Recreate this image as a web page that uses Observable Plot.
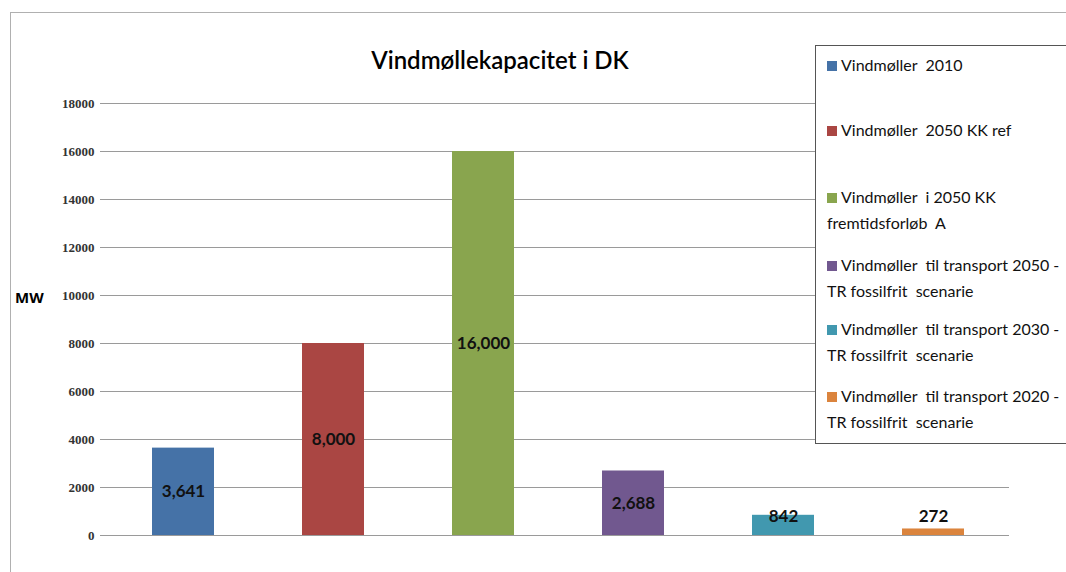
<!DOCTYPE html>
<html><head><meta charset="utf-8">
<script src="https://cdn.jsdelivr.net/npm/d3@7"></script>
<script src="https://cdn.jsdelivr.net/npm/@observablehq/plot@0.6"></script>
<style>
html,body{margin:0;padding:0;background:#fff;width:1066px;height:572px;overflow:hidden;}
#wrap{position:relative;width:1066px;height:572px;}
#frame{position:absolute;left:10px;top:12px;width:1070px;height:580px;border-left:1px solid #b0b0b0;border-top:1px solid #b0b0b0;}
#title{position:absolute;left:0;width:1000px;top:45px;text-align:center;font-family:Lato,"Open Sans",sans-serif;font-size:24px;font-weight:600;color:#000;}
#ylab{position:absolute;left:15px;top:287px;font-family:"Open Sans",sans-serif;font-weight:700;font-size:15px;}
#legend{position:absolute;left:815px;top:45px;width:260px;height:397px;border:1px solid #555;background:#fff;font-family:Lato,"Open Sans",sans-serif;font-size:16px;color:#111;}
.li{position:absolute;left:11px;line-height:26px;}
.sw{display:inline-block;width:10px;height:10px;margin-right:4px;vertical-align:0px;}
#chart{position:absolute;left:0;top:0;}
#chart g[aria-label="y-axis tick label"]{font-family:"Liberation Serif","DejaVu Serif",serif !important;font-size:13px !important;font-weight:bold;}
</style></head>
<body><div id="wrap"><div id="frame"></div><div id="chart"></div><div id="title"></div><div id="ylab">MW</div><div id="legend"></div></div>
<script>
const categories = ["Vindmøller 2010","Vindmøller 2050 KK ref","Vindmøller i 2050 KK fremtidsforløb A","Vindmøller til transport 2050 - TR fossilfrit scenarie","Vindmøller til transport 2030 - TR fossilfrit scenarie","Vindmøller til transport 2020 - TR fossilfrit scenarie"];
const legendLines = [["Vindmøller  2010"],["Vindmøller  2050 KK ref"],["Vindmøller  i 2050 KK","fremtidsforløb  A"],["Vindmøller  til transport 2050 -","TR fossilfrit  scenarie"],["Vindmøller  til transport 2030 -","TR fossilfrit  scenarie"],["Vindmøller  til transport 2020 -","TR fossilfrit  scenarie"]];
const values = [3641, 8000, 16000, 2688, 842, 272];
const valueLabels = ["3,641","8,000","16,000","2,688","842","272"];
const colors = ["#4572A7","#AA4643","#89A54E","#71588F","#4198AF","#DB843D"];
const yTicks = [0,2000,4000,6000,8000,10000,12000,14000,16000,18000];
const title = "Vindmøllekapacitet i DK";

const data = categories.map((c,i)=>({cat:c, v:values[i], label:valueLabels[i], color:colors[i], small: values[i] < 1000}));

const plot = Plot.plot({
  width:1066, height:572,
  marginLeft:107, marginRight:57, marginTop:103, marginBottom:37,
  x:{domain:categories, paddingInner:0.59, paddingOuter:0.29, axis:null},
  y:{domain:[0,18000], label:null},
  marks:[
    Plot.ruleY(yTicks, {stroke:"#9a9a9a", strokeWidth:1, strokeOpacity:1}),
    Plot.ruleX([0], {frameAnchor:"left", stroke:"#9a9a9a"}),
    Plot.axisY({ticks:yTicks, tickSize:7, tickPadding:6, stroke:"#9a9a9a", tickFormat:d=>String(d),
      fontFamily:"'Liberation Serif',serif", fontSize:13, fontWeight:"bold", fill:"#333", label:null}),
    Plot.barY(data, {x:"cat", y:"v", fill:"color"}),
    Plot.text(data.filter(d=>!d.small), {x:"cat", y:d=>d.v/2, text:"label", fontFamily:"Lato,'Open Sans',sans-serif", fontSize:17, fontWeight:"bold", fill:"#111"}),
    Plot.text(data.filter(d=>d.small), {x:"cat", y:0, dy:-19, text:"label", fontFamily:"Lato,'Open Sans',sans-serif", fontSize:17, fontWeight:"bold", fill:"#111"})
  ]
});
document.getElementById("chart").appendChild(plot);
document.getElementById("title").textContent = title;
const lg = document.getElementById("legend");
const tops = [6, 71, 138, 206, 270, 337];
legendLines.forEach((lines,i)=>{
  const d = document.createElement("div");
  d.className="li"; d.style.top = tops[i]+"px";
  const sw = document.createElement("span"); sw.className="sw"; sw.style.background=colors[i];
  d.appendChild(sw);
  lines.forEach((t,j)=>{ if(j>0) d.appendChild(document.createElement("br")); d.appendChild(document.createTextNode(t)); });
  d.style.whiteSpace="pre";
  lg.appendChild(d);
});
</script>
</body></html>
